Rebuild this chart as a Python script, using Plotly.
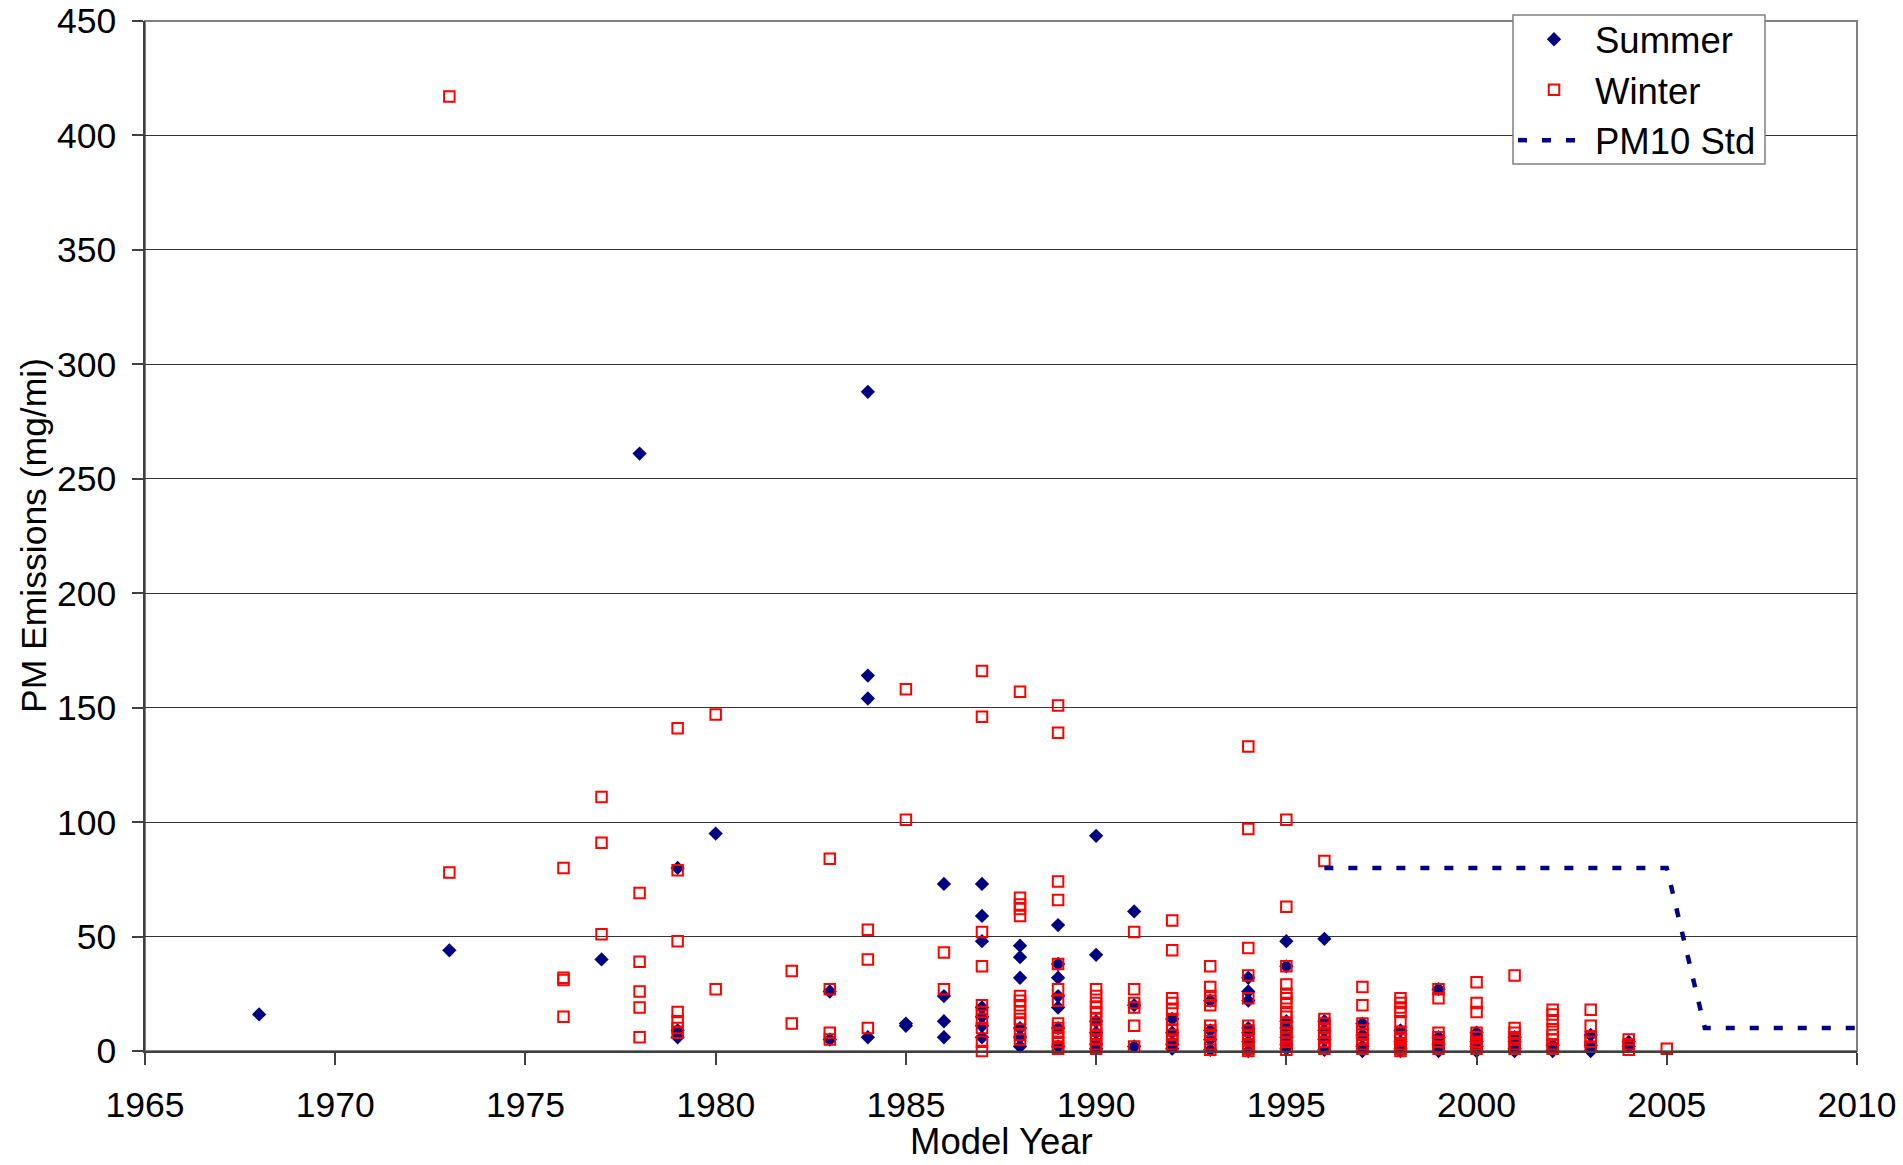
import plotly.graph_objects as go

# PM emissions (mg/mi) by vehicle model year, one entry per tested vehicle
summer_by_year = [
    (1968, [16]),
    (1973, [44]),
    (1977, [40]),
    (1978, [261]),
    (1979, [80, 9, 6]),
    (1980, [95]),
    (1983, [26, 5]),
    (1984, [288, 164, 154, 6]),
    (1985, [12, 11]),
    (1986, [73, 24, 13, 6]),
    (1987, [73, 59, 48, 19, 15, 11, 6]),
    (1988, [46, 41, 32, 10, 6, 2]),
    (1989, [55, 38, 32, 24, 19, 10, 2]),
    (1990, [94, 42, 13, 8, 3, 1]),
    (1991, [61, 20, 2]),
    (1992, [14, 8, 3, 1]),
    (1993, [22, 9, 5, 0.5]),
    (1994, [32, 26, 22, 10, 8, 4, 0]),
    (1995, [48, 37, 13, 10, 6, 3, 1]),
    (1996, [49, 13, 9, 5, 0.5]),
    (1997, [12, 7, 2, 0]),
    (1998, [9, 4, 1, 0]),
    (1999, [27, 6, 3, 0]),
    (2000, [8, 4, 2, 0]),
    (2001, [6, 4, 1, 0]),
    (2002, [2.5, 0]),
    (2003, [7, 2.5, 0]),
    (2004, [4, 2]),
]

winter_by_year = [
    (1973, [417, 78]),
    (1976, [80, 32, 31, 15]),
    (1977, [111, 91, 51]),
    (1978, [69, 39, 26, 19, 6]),
    (1979, [141, 79, 48, 17, 13, 10, 8]),
    (1980, [147, 27]),
    (1982, [35, 12]),
    (1983, [84, 27, 8, 5]),
    (1984, [53, 40, 10]),
    (1985, [158, 101]),
    (1986, [43, 27]),
    (1987, [166, 146, 52, 37, 20, 17, 14, 10, 4, 0]),
    (1988, [157, 67, 64, 62, 59, 24, 22, 20, 17, 14, 12, 7, 5]),
    (1989, [151, 139, 74, 66, 38, 27, 22, 12, 10, 8, 6, 4, 2, 1]),
    (1990, [27, 24, 21, 19, 17, 14, 11, 9, 7, 5, 3, 1]),
    (1991, [52, 27, 21, 19, 11, 2]),
    (1992, [57, 44, 23, 21, 18, 14, 9, 7, 5, 3]),
    (1993, [37, 28, 24, 22, 20, 11, 9, 7, 3, 0.5]),
    (1994, [133, 97, 45, 33, 23, 11, 9, 7, 5, 3, 1, 0]),
    (1995, [101, 63, 37, 29, 25, 23, 21, 17, 15, 12, 10, 8, 6, 4, 2, 0.5]),
    (1996, [83, 14, 12, 10, 8, 6, 4, 2, 1]),
    (1997, [28, 20, 12, 9, 7, 5, 3, 1]),
    (1998, [23, 21, 19, 17, 13, 8, 6, 5, 3, 2, 1, 0]),
    (1999, [27, 23, 8, 6, 4, 2, 1]),
    (2000, [30, 21, 17, 8, 6, 4, 3, 2, 1]),
    (2001, [33, 10, 8, 6, 5, 3, 1]),
    (2002, [18, 16, 13, 9.5, 7, 5, 3, 1]),
    (2003, [18, 11, 6, 4, 2]),
    (2004, [5, 3, 2, 0.5]),
    (2005, [1]),
]

# PM10 standard (mg/mi) by model year
std_years = [1996, 2005, 2006, 2010]
std_pm = [80, 80, 10, 10]

x_ticks = [1965, 1970, 1975, 1980, 1985, 1990, 1995, 2000, 2005, 2010]
y_ticks = [0, 50, 100, 150, 200, 250, 300, 350, 400, 450]


def flatten(groups):
    xs, ys = [], []
    for year, vals in groups:
        for v in vals:
            xs.append(year)
            ys.append(v)
    return xs, ys


summer_x, summer_y = flatten(summer_by_year)
winter_x, winter_y = flatten(winter_by_year)

FONT = "Liberation Sans, Arial, sans-serif"
NAVY = "#000080"
RED = "#FF0000"

# plot frame in pixels (figure is 1903 x 1165)
PL, PR, PT, PB = 145, 1857, 21, 1051
PW, PH = PR - PL, PB - PT


def px_x(x):
    return (x - PL) / PW


def px_y(y):
    return (PB - y) / PH


fig = go.Figure()

fig.add_trace(go.Scatter(
    x=summer_x, y=summer_y, mode="markers", name="Summer",
    marker=dict(symbol="diamond", size=11, color=NAVY, line=dict(width=0)),
    cliponaxis=False,
))
fig.add_trace(go.Scatter(
    x=winter_x, y=winter_y, mode="markers", name="Winter",
    marker=dict(symbol="square-open", size=10.5, color=RED, line=dict(width=2, color=RED)),
    cliponaxis=False,
))
fig.add_trace(go.Scatter(
    x=std_years, y=std_pm, mode="lines", name="PM10 Std",
    line=dict(color=NAVY, width=4.5, dash="9px,15px"),
    cliponaxis=False,
))

fig.update_layout(
    width=1903, height=1165,
    margin=dict(l=PL, r=1903 - PR, t=PT, b=1165 - PB, autoexpand=False),
    paper_bgcolor="white", plot_bgcolor="white",
    font=dict(family=FONT, size=35, color="black"),
    showlegend=True,
    legend=dict(
        x=px_x(1513), y=px_y(9),
        xanchor="left", yanchor="top",
        bgcolor="rgba(0,0,0,0)", borderwidth=0,
        font=dict(family=FONT, size=36.5, color="black"),
        itemwidth=72,
    ),
    xaxis=dict(
        range=[1965, 2010], tickmode="array", tickvals=x_ticks,
        ticktext=[str(t) for t in x_ticks],
        showgrid=False, zeroline=False, automargin=False,
        showline=True, linecolor="#404040", linewidth=2,
        ticks="outside", ticklen=12, tickwidth=1.5, tickcolor="#404040",
        ticklabelstandoff=9,
        tickfont=dict(family=FONT, size=35.5, color="black"),
    ),
    yaxis=dict(
        range=[0, 450], tickmode="array", tickvals=y_ticks,
        ticktext=[str(t) for t in y_ticks],
        showgrid=True, gridcolor="#333333", gridwidth=1.2,
        zeroline=False, automargin=False,
        showline=True, linecolor="#404040", linewidth=1.5,
        ticks="outside", ticklen=11, tickwidth=1.5, tickcolor="#404040",
        ticklabelstandoff=9,
        tickfont=dict(family=FONT, size=35.5, color="black"),
    ),
    shapes=[
        # plot area frame
        dict(type="rect", xref="paper", yref="paper", x0=0, x1=1, y0=0, y1=1,
             line=dict(color="#808080", width=2), layer="below"),
        # legend box
        dict(type="rect", xref="paper", yref="paper",
             x0=px_x(1513), x1=px_x(1765), y0=px_y(164), y1=px_y(15),
             fillcolor="white", line=dict(color="#808080", width=1.5),
             layer="above"),
    ],
    annotations=[
        dict(text="Model Year", xref="paper", yref="paper",
             x=0.5, y=px_y(1164), xanchor="center", yanchor="bottom",
             showarrow=False, font=dict(family=FONT, size=36.5, color="black")),
        dict(text="PM Emissions (mg/mi)", xref="paper", yref="paper",
             x=px_x(34), y=0.5, xanchor="center", yanchor="middle",
             textangle=-90, showarrow=False,
             font=dict(family=FONT, size=35.5, color="black")),
    ],
)

fig.write_html("out.html")
